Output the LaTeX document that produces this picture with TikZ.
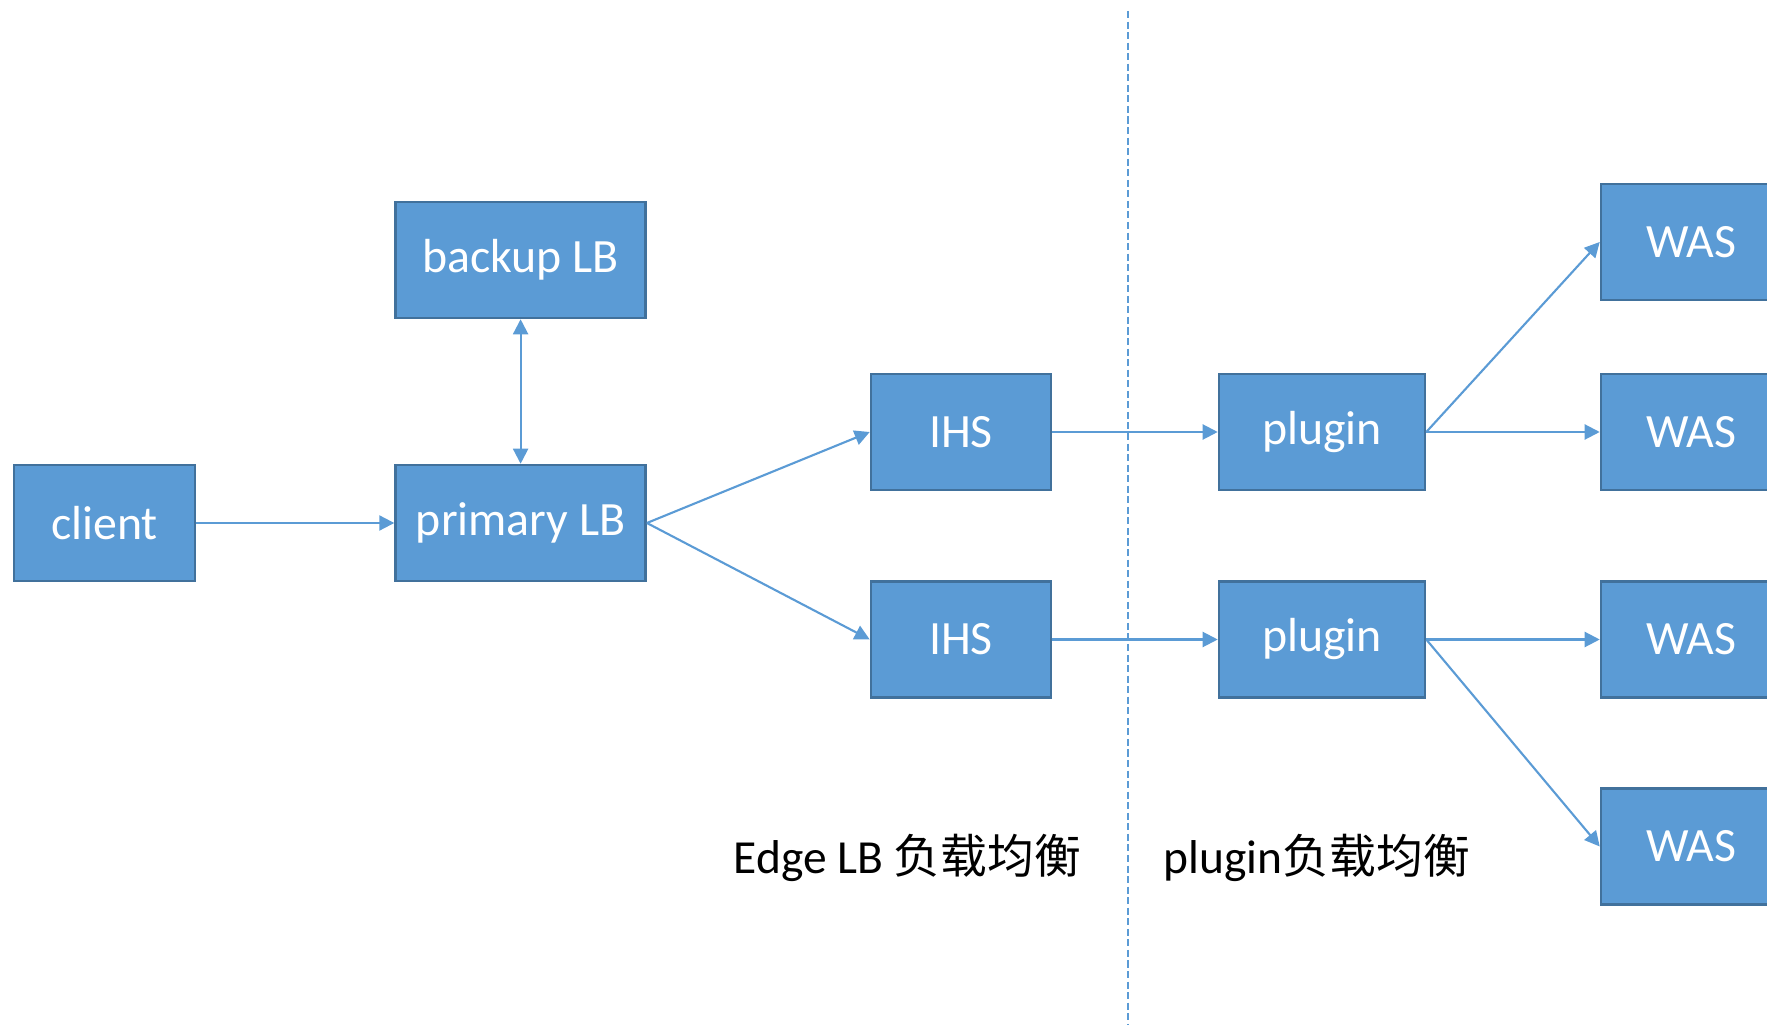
\documentclass[tikz,border=0pt]{standalone}
\usepackage{fontspec}
\setmainfont{Carlito}
\newfontfamily\cjk{Noto Sans CJK SC}
\usetikzlibrary{arrows.meta}
\definecolor{boxfill}{HTML}{5B9BD5}
\definecolor{boxline}{HTML}{41719C}

\begin{document}
\begin{tikzpicture}[x=0.01cm, y=-0.01cm,
  box/.style={rectangle, draw=boxline, fill=boxfill, line width=0.7pt,
    text=white, minimum height=1.16cm, inner sep=0pt,
    font=\fontsize{13.6}{16}\selectfont},
  link/.style={draw=boxfill, line width=0.6pt,
    -{Triangle[length=0.15cm, width=0.15cm]}},
  caption/.style={anchor=base west, inner sep=0pt, text=black}]
  \useasboundingbox (0,0) rectangle (1767,1025);
  \node[box, minimum width=1.81cm] (client) at (104.5,523) {client};
  \node[box, minimum width=2.50cm] (backup) at (520.6,260) {backup LB};
  \node[box, minimum width=2.50cm] (primary) at (520.6,523) {primary LB};
  \node[box, minimum width=1.80cm] (ihsA) at (961,432) {IHS};
  \node[box, minimum width=1.80cm] (ihsB) at (961,639.5) {IHS};
  \node[box, minimum width=2.06cm] (plugA) at (1322,432) {plugin};
  \node[box, minimum width=2.06cm] (plugB) at (1322,639.5) {plugin};
  \node[box, minimum width=1.80cm] (wasA) at (1691,242) {WAS};
  \node[box, minimum width=1.80cm] (wasB) at (1691,432) {WAS};
  \node[box, minimum width=1.80cm] (wasC) at (1691,639.5) {WAS};
  \node[box, minimum width=1.80cm] (wasD) at (1691,846.5) {WAS};
  % divider between the two stages
  \coordinate (divtop) at (1128,11);
  \coordinate (divbot) at (1128,1025);
  \draw[boxfill, line width=0.6pt, dash pattern=on 2pt off 1pt] (divtop) -- (divbot);
  \node[caption] (edgecap) at (733,873)
    {\fontsize{13.5}{16}\selectfont Edge LB {\cjk\fontsize{13.3}{16}\selectfont 负载均衡}};
  \node[caption] (plugcap) at (1163,873)
    {\fontsize{13.5}{16}\selectfont plugin{\cjk\fontsize{13.3}{16}\selectfont 负载均衡}};
  % connections
  \draw[link] (client) -- (primary);
  \draw[link, {Triangle[length=0.15cm, width=0.15cm]}-{Triangle[length=0.15cm, width=0.15cm]}] (backup) -- (primary);
  \draw[link] (primary.east) -- (ihsA.west);
  \draw[link] (primary.east) -- (ihsB.west);
  \draw[link] (ihsA) -- (plugA);
  \draw[link] (ihsB) -- (plugB);
  \draw[link] (plugA.east) -- (wasA.west);
  \draw[link] (plugA.east) -- (wasB.west);
  \draw[link] (plugB.east) -- (wasC.west);
  \draw[link] (plugB.east) -- (wasD.west);
\end{tikzpicture}
\end{document}
